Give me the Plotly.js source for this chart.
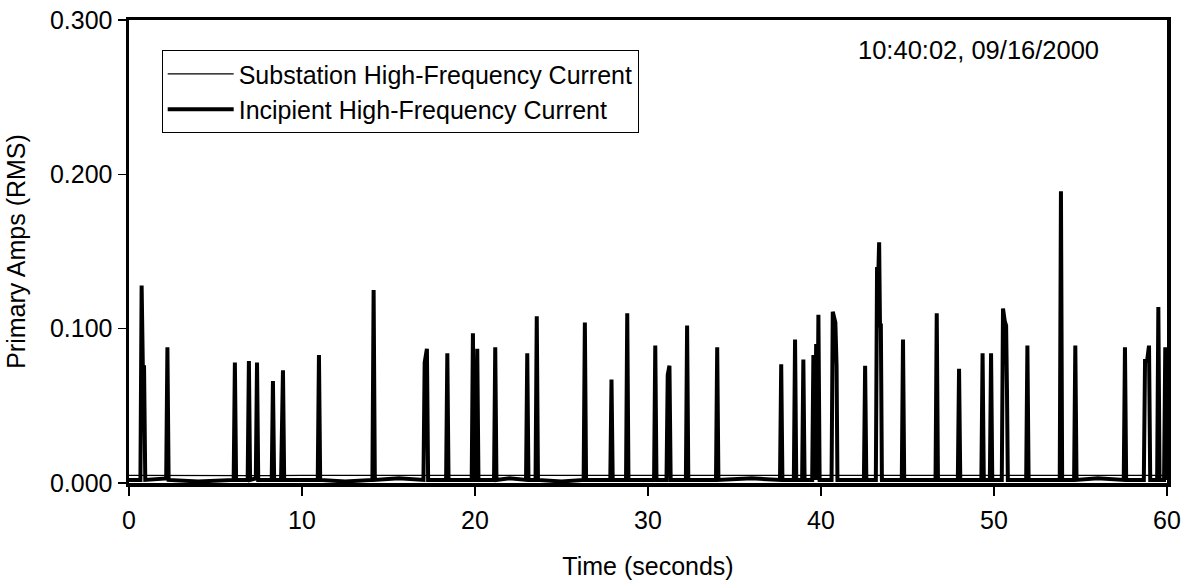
<!DOCTYPE html>
<html>
<head>
<meta charset="utf-8">
<script src="https://cdn.plot.ly/plotly-3.0.1.min.js"></script>
<style>
html,body{margin:0;padding:0;background:#fff;}
#chart{width:1188px;height:581px;}
</style>
</head>
<body>
<div id="chart"></div>
<script>
// Time (seconds) and primary amps (RMS)
const substationTime = [0, 2, 4, 6, 8, 10, 12, 14, 16, 18, 20, 22, 24, 26, 28, 30, 32, 34, 36, 38, 40, 42, 44, 46, 48, 50, 52, 54, 56, 58, 60];
const substationAmps = [0.0050, 0.0049, 0.0051, 0.0050, 0.0048, 0.0050, 0.0051, 0.0049, 0.0050, 0.0050, 0.0049, 0.0051, 0.0050, 0.0050, 0.0049, 0.0050, 0.0051, 0.0050, 0.0049, 0.0050, 0.0050, 0.0051, 0.0049, 0.0050, 0.0050, 0.0049, 0.0050, 0.0051, 0.0050, 0.0049, 0.0050];

const incipientTime = [
  0, 0.66, 0.73, 0.80, 0.87, 0.94,
  2.15, 2.22, 2.29, 4.0,
  6.05, 6.12, 6.19, 6.86, 6.93, 7.00, 7.33, 7.40, 7.47,
  8.25, 8.32, 8.39, 8.79, 8.86, 8.90, 8.97,
  10.91, 10.98, 11.05, 12.5, 14.07, 14.14, 14.21, 15.6,
  17.02, 17.09, 17.22, 17.29, 18.33, 18.40, 18.47,
  19.81, 19.88, 19.95, 20.06, 20.13, 20.20,
  21.10, 21.17, 21.24, 22.0, 22.95, 23.02, 23.09, 23.50, 23.57, 23.64,
  25.0, 26.28, 26.35, 26.42, 27.82, 27.89, 27.96, 28.73, 28.80, 28.87,
  30.35, 30.42, 30.49, 31.07, 31.14, 31.24, 31.31, 32.19, 32.26, 32.33,
  33.93, 34.00, 34.07, 36.0,
  37.63, 37.70, 37.77, 38.43, 38.50, 38.57, 38.91, 38.98, 39.05,
  39.49, 39.56, 39.64, 39.72, 39.78, 39.85, 39.92,
  40.61, 40.68, 40.83, 40.90, 40.95,
  42.48, 42.55, 42.62,
  43.17, 43.24, 43.30, 43.36, 43.41, 43.46, 43.52,
  44.67, 44.74, 44.81, 46.62, 46.69, 46.76, 47.91, 47.98, 48.05,
  49.27, 49.34, 49.41, 49.76, 49.83, 49.90,
  50.45, 50.52, 50.62, 50.70, 50.75, 50.80,
  51.86, 51.93, 52.00, 53.80, 53.87, 53.94, 54.63, 54.70, 54.77, 56.0,
  57.50, 57.57, 57.64, 58.66, 58.73, 58.85, 58.96, 59.03,
  59.43, 59.50, 59.57, 59.83, 59.90, 60
];
const incipientAmps = [
  0.002, 0.002, 0.128, 0.075, 0.075, 0.002,
  0.003, 0.088, 0.002, 0.001,
  0.002, 0.078, 0.002, 0.002, 0.079, 0.002, 0.003, 0.078, 0.002,
  0.002, 0.066, 0.002, 0.002, 0.069, 0.073, 0.002,
  0.002, 0.083, 0.002, 0.001, 0.002, 0.125, 0.002, 0.003,
  0.002, 0.078, 0.087, 0.002, 0.002, 0.084, 0.002,
  0.002, 0.097, 0.002, 0.002, 0.087, 0.002,
  0.002, 0.088, 0.002, 0.003, 0.002, 0.084, 0.002, 0.002, 0.108, 0.002,
  0.001, 0.002, 0.104, 0.002, 0.002, 0.067, 0.002, 0.002, 0.110, 0.002,
  0.002, 0.089, 0.002, 0.002, 0.070, 0.076, 0.002, 0.002, 0.102, 0.002,
  0.002, 0.088, 0.002, 0.003,
  0.002, 0.077, 0.002, 0.002, 0.093, 0.002, 0.002, 0.080, 0.002,
  0.002, 0.083, 0.002, 0.090, 0.002, 0.109, 0.002,
  0.002, 0.111, 0.104, 0.076, 0.002,
  0.002, 0.076, 0.002,
  0.002, 0.140, 0.130, 0.156, 0.102, 0.102, 0.002,
  0.002, 0.093, 0.002, 0.002, 0.110, 0.002, 0.002, 0.074, 0.002,
  0.002, 0.084, 0.002, 0.002, 0.084, 0.002,
  0.002, 0.113, 0.105, 0.102, 0.060, 0.002,
  0.002, 0.089, 0.002, 0.002, 0.189, 0.002, 0.002, 0.089, 0.002, 0.003,
  0.002, 0.088, 0.002, 0.002, 0.079, 0.079, 0.089, 0.002,
  0.002, 0.114, 0.002, 0.002, 0.088, 0.002
];

const xTickVals = [0, 10, 20, 30, 40, 50, 60];
const yTickVals = [0, 0.1, 0.2, 0.3];
const yTickText = ['0.000', '0.100', '0.200', '0.300'];

const FONT = 'Liberation Sans, Arial, sans-serif';
const FS = 25;

const traces = [
  {
    x: substationTime, y: substationAmps, type: 'scatter', mode: 'lines',
    name: 'Substation High-Frequency Current',
    line: {color: '#000', width: 1.3}
  },
  {
    x: incipientTime, y: incipientAmps, type: 'scatter', mode: 'lines',
    name: 'Incipient High-Frequency Current',
    line: {color: '#000', width: 4}
  }
];

const layout = {
  width: 1188, height: 581,
  paper_bgcolor: '#fff', plot_bgcolor: '#fff',
  margin: {l: 129, r: 21, t: 20, b: 98},
  font: {family: FONT, size: FS, color: '#000'},
  showlegend: true,
  legend: {
    x: 0.0315, y: 0.935, xanchor: 'left', yanchor: 'top',
    bgcolor: '#fff', bordercolor: '#000', borderwidth: 1,
    font: {family: FONT, size: FS, color: '#000'},
    tracegroupgap: 0, itemwidth: 66
  },
  xaxis: {
    range: [0, 60], tickvals: xTickVals, ticktext: xTickVals.map(String),
    showgrid: false, zeroline: false,
    showline: true, linecolor: '#000', linewidth: 3.5, mirror: true,
    ticks: 'outside', ticklen: 9, tickwidth: 1.3, tickcolor: '#000',
    ticklabelstandoff: 3,
    tickfont: {family: FONT, size: FS, color: '#000'},
    title: {text: 'Time (seconds)', font: {family: FONT, size: FS, color: '#000'}, standoff: 26}
  },
  yaxis: {
    range: [0, 0.3], tickvals: yTickVals, ticktext: yTickText,
    showgrid: false, zeroline: false,
    showline: true, linecolor: '#000', linewidth: 3.5, mirror: true,
    ticks: 'outside', ticklen: 8, tickwidth: 1.3, tickcolor: '#000',
    tickfont: {family: FONT, size: FS, color: '#000'},
    title: {text: 'Primary Amps (RMS)', font: {family: FONT, size: FS, color: '#000'}, standoff: 18}
  },
  annotations: [
    {
      text: '10:40:02, 09/16/2000', xref: 'paper', yref: 'paper',
      x: 0.818, y: 0.935, xanchor: 'center', yanchor: 'middle',
      showarrow: false, font: {family: FONT, size: 25.5, color: '#000'}
    }
  ]
};

Plotly.newPlot('chart', traces, layout, {displayModeBar: false, staticPlot: true});
</script>
</body>
</html>
